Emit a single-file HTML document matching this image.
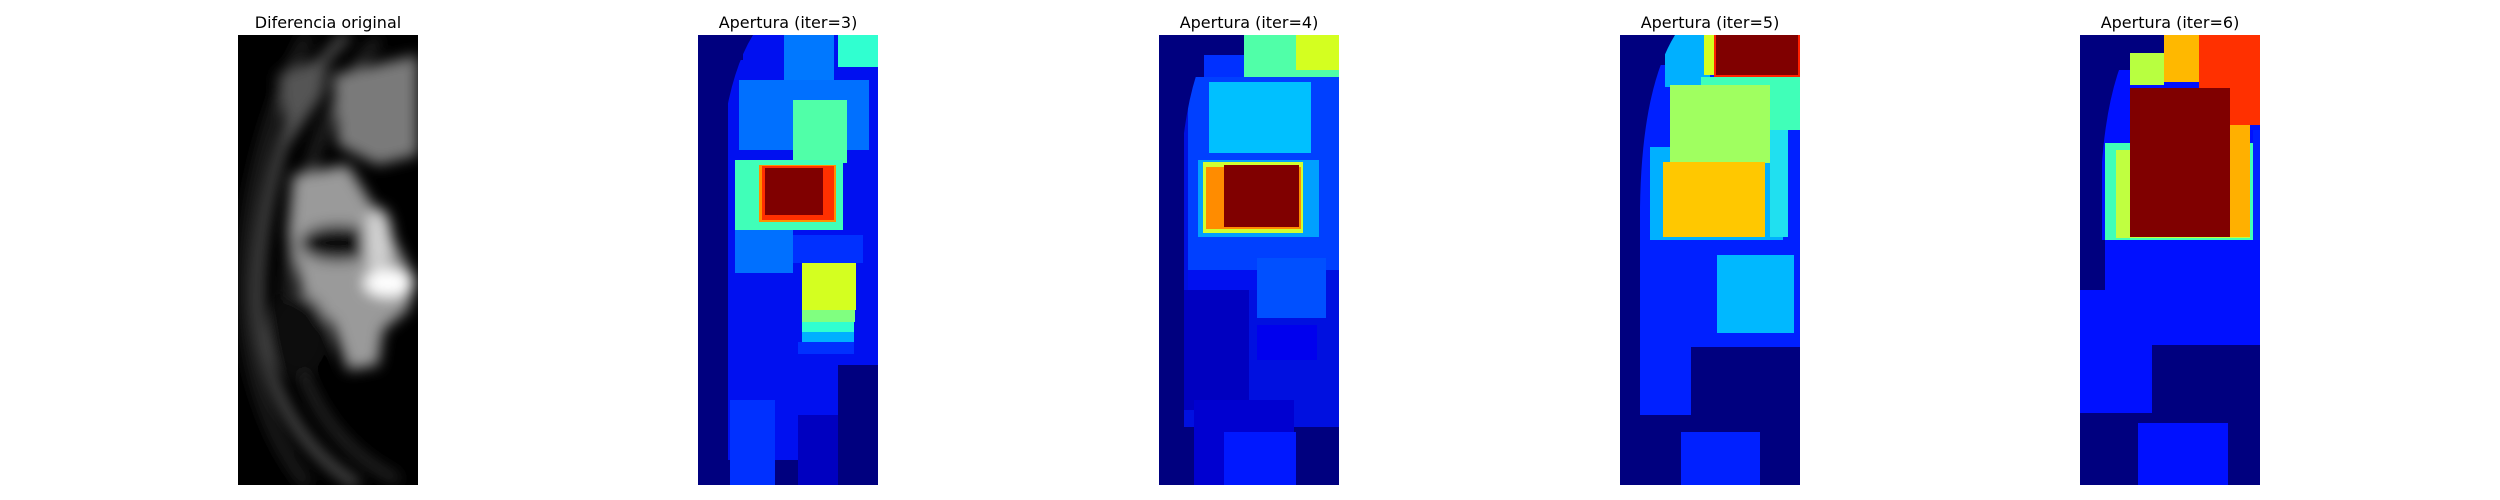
<!DOCTYPE html>
<html><head><meta charset="utf-8">
<style>
html,body{margin:0;padding:0;background:#fff;}
body{width:2500px;height:500px;overflow:hidden;position:relative;font-family:"DejaVu Sans","Liberation Sans",sans-serif;}
svg{position:absolute;left:0;top:0;}
</style></head>
<body>
<svg id="fig" width="2500" height="500" xmlns="http://www.w3.org/2000/svg">
<defs><filter id="blur" x="-10%" y="-10%" width="120%" height="120%"><feGaussianBlur stdDeviation="7"/></filter>
<clipPath id="clip1"><rect x="0" y="0" width="180" height="450"/></clipPath></defs>
<g id="p1" transform="translate(238,35)">
<g clip-path="url(#clip1)">
<rect width="180" height="450" fill="#000"/>
<g filter="url(#blur)">
<path d="M110,0 C50,50 20,170 20,260 C22,360 70,420 120,450" stroke="#5a5a5a" stroke-width="9" fill="none"/>
<path d="M140,5 C90,60 55,160 50,250 C50,340 90,410 160,445" stroke="#404040" stroke-width="6" fill="none"/>
<path d="M70,0 C25,80 5,180 6,260 C8,340 35,410 70,450" stroke="#303030" stroke-width="7" fill="none"/>
<path d="M95,40 L180,20 L180,120 L140,130 L100,110 Z" fill="#7a7a7a"/>
<path d="M40,40 L90,20 L85,60 L50,110 Z" fill="#555"/>
<path d="M55,140 L110,130 L150,195 L178,245 L170,275 L145,295 L140,330 L110,335 L95,290 L65,260 L50,200 Z" fill="#9a9a9a"/>
<ellipse cx="100" cy="208" rx="38" ry="18" fill="#0a0a0a"/>
<ellipse cx="150" cy="248" rx="24" ry="14" fill="#fff"/>
<ellipse cx="140" cy="205" rx="14" ry="32" fill="#d0d0d0"/>
<ellipse cx="60" cy="300" rx="30" ry="40" fill="#111"/>
</g></g>
</g>
</svg>
<script>
// panel origins and sizes (layout)
const panelX=[238,698,1159,1620,2080];
const panelY=35, panelW=180, panelH=450;
const titles=["Diferencia original","Apertura (iter=3)","Apertura (iter=4)","Apertura (iter=5)","Apertura (iter=6)"];
// cells: [x, y, w, h, color] in image units (0-180 x 0-450)
const cells3=[
[0,0,180,450,"#00007f"],
[30,25,150,400,"#0010f0"],
[45,0,135,30,"#0010f0"],
[86,0,50,45,"#0078ff"],
[140,0,40,32,"#30ffd0"],
[41,45,130,70,"#0070ff"],
[95,65,54,63,"#50ffa8"],
[37,125,108,70,"#40ffb8"],
[61,130,77,57,"#ff9000"],
[64,131,72,54,"#ff3000"],
[67,133,58,47,"#800000"],
[37,195,58,43,"#0070ff"],
[95,200,70,28,"#0030ff"],
[104,228,54,47,"#d4ff20"],
[104,275,53,12,"#80ff80"],
[104,287,52,10,"#30ffd0"],
[104,297,52,10,"#00b0ff"],
[100,307,56,12,"#0030ff"],
[140,330,40,120,"#00007f"],
[100,380,40,70,"#0000c0"],
[32,365,45,85,"#0030ff"],
[0,0,30,60,"#00007f"]
];
const cells4=[
[0,0,180,450,"#00007f"],
[25,42,155,350,"#0010e0"],
[45,20,40,30,"#0030ff"],
[85,0,95,42,"#50ffa8"],
[137,0,43,35,"#d4ff20"],
[29,42,151,193,"#0040ff"],
[50,47,102,71,"#00c0ff"],
[39,125,121,77,"#00a0ff"],
[44,127,100,71,"#d0ff30"],
[47,132,95,62,"#ff8c00"],
[65,130,75,62,"#800000"],
[29,235,69,20,"#0010f0"],
[98,223,69,60,"#0050ff"],
[98,290,60,35,"#0000ee"],
[0,255,90,120,"#0000c0"],
[35,365,100,85,"#0000d0"],
[65,397,72,53,"#0018ff"],
[0,0,25,450,"#00007f"]
];
const cells5=[
[0,0,180,450,"#00007f"],
[20,30,160,350,"#0020ff"],
[45,0,45,52,"#00b0ff"],
[84,0,10,40,"#d4ff20"],
[94,0,86,42,"#ff2000"],
[96,0,82,40,"#800000"],
[81,42,99,53,"#40ffb8"],
[30,112,133,93,"#00b0ff"],
[50,50,100,78,"#a0ff60"],
[150,95,18,107,"#20e0f0"],
[43,127,102,75,"#ffc800"],
[97,220,77,78,"#00b8ff"],
[71,312,109,76,"#00007f"],
[0,388,180,62,"#00007f"],
[61,397,79,53,"#0020ff"],
[0,0,20,450,"#00007f"]
];
const cells6=[
[0,0,180,450,"#00007f"],
[22,35,158,170,"#0010ff"],
[50,18,34,32,"#b8ff40"],
[84,0,35,47,"#ffb800"],
[119,0,61,90,"#ff3000"],
[25,108,149,97,"#40ffb8"],
[36,115,134,88,"#c0ff40"],
[150,90,20,112,"#ffb000"],
[173,95,7,110,"#0020ff"],
[50,53,100,149,"#800000"],
[25,205,155,105,"#0010ff"],
[0,255,180,55,"#0010ff"],
[0,310,72,68,"#0010ff"],
[58,388,90,62,"#0010ff"],
[0,0,22,150,"#00007f"]
];
const panelsData=[null,cells3,cells4,cells5,cells6];
const NS="http://www.w3.org/2000/svg";
const svg=document.getElementById('fig');
function sx(i,v){return panelX[i]+v*panelW/180;}
function sy(v){return panelY+v*panelH/450;}
for(let i=1;i<5;i++){
  const g=document.createElementNS(NS,'g');
  
  
  panelsData[i].forEach(c=>{
    const r=document.createElementNS(NS,'rect');
    r.setAttribute('x',sx(i,c[0]));r.setAttribute('y',sy(c[1]));
    r.setAttribute('width',c[2]*panelW/180);r.setAttribute('height',c[3]*panelH/450);
    r.setAttribute('fill',c[4]);
    
    
    g.appendChild(r);
  });
  const p=document.createElementNS(NS,'path');
  const x0=panelX[i];
  p.setAttribute('d',`M${x0},${panelY} L${x0+55},${panelY} Q${x0+18},${panelY+60} ${x0+20},${panelY+200} L${x0},${panelY+200} Z`);
  p.setAttribute('fill','#00007f');
  
  
  g.appendChild(p);
  svg.appendChild(g);
}
titles.forEach((t,i)=>{
  const tx=document.createElementNS(NS,'text');
  tx.setAttribute('x',panelX[i]+panelW/2);tx.setAttribute('y',28);
  tx.setAttribute('text-anchor','middle');tx.setAttribute('font-size','16');
  tx.setAttribute('font-family','"DejaVu Sans","Liberation Sans",sans-serif');
  tx.setAttribute('fill','#000');
  
  
  tx.textContent=t;
  svg.appendChild(tx);
});
</script>
</body></html>
